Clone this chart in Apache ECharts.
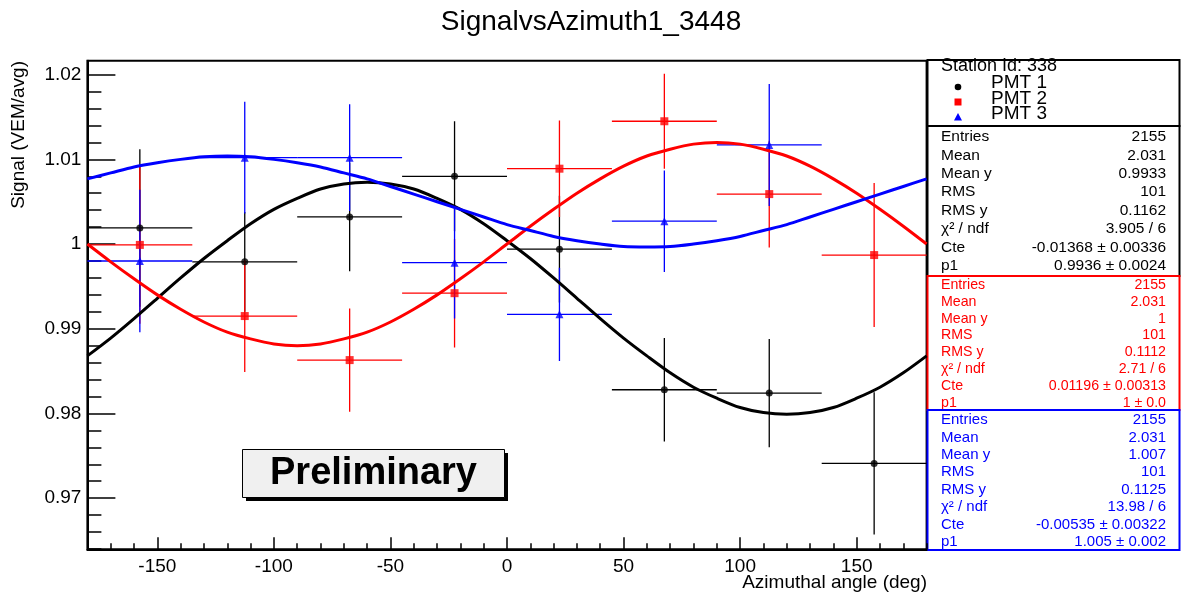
<!DOCTYPE html>
<html>
<head>
<meta charset="utf-8">
<title>SignalvsAzimuth1_3448</title>
<script src="https://cdn.jsdelivr.net/npm/echarts/dist/echarts.min.js"></script>
<style>
  html, body { margin: 0; padding: 0; background: #fff; }
  #main { width: 1182px; height: 613px; }
</style>
</head>
<body>
<div id="main"></div>
<script>
// 数据：方位角分箱中心 (deg)
var angles = [-157.5, -112.5, -67.5, -22.5, 22.5, 67.5, 112.5, 157.5];
var binHalf = 22.5;

// PMT 1 (black)
var pmt1 = [1.0019, 0.9979, 1.0032, 1.0080, 0.9994, 0.9828, 0.9824, 0.9741];
var pmt1Err = [0.0093, 0.0059, 0.0064, 0.0065, 0.0063, 0.0061, 0.0064, 0.0084];
// PMT 2 (red)
var pmt2 = [0.9999, 0.9915, 0.9863, 0.9942, 1.0089, 1.0145, 1.0059, 0.9987];
var pmt2Err = [0.0093, 0.0066, 0.0061, 0.0064, 0.0057, 0.0056, 0.0063, 0.0085];
// PMT 3 (blue) - 最后一个点不在图中
var pmt3 = [0.9980, 1.0102, 1.0102, 0.9978, 0.9917, 1.0027, 1.0117];
var pmt3Err = [0.0084, 0.0066, 0.0063, 0.0066, 0.0055, 0.0060, 0.0072];

// 拟合曲线（从图上读取，每 10 度一个点）
var fitAngles = [-180, -170, -160, -150, -140, -130, -120, -110, -100, -90, -80, -70, -60, -50, -40, -30, -20, -10, 0,
	10, 20, 30, 40, 50, 60, 70, 80, 90, 100, 110, 120, 130, 140, 150, 160, 170, 180];
var fit1 = [0.9868, 0.9889, 0.9912, 0.9936, 0.9960, 0.9983, 1.0004, 1.0024, 1.0041, 1.0054, 1.0065, 1.0071, 1.0073, 1.0071, 1.0065, 1.0054, 1.0041, 1.0024, 1.0004,
	0.9983, 0.9960, 0.9936, 0.9912, 0.9889, 0.9868, 0.9848, 0.9831, 0.9818, 0.9807, 0.9801, 0.9799, 0.9801, 0.9807, 0.9818, 0.9831, 0.9848, 0.9868];
var fit2 = [1.0000, 0.9979, 0.9959, 0.9940, 0.9923, 0.9908, 0.9896, 0.9888, 0.9882, 0.9880, 0.9882, 0.9888, 0.9896, 0.9908, 0.9923, 0.9940, 0.9959, 0.9979, 1.0000,
	1.0021, 1.0041, 1.0060, 1.0077, 1.0092, 1.0104, 1.0112, 1.0118, 1.0120, 1.0118, 1.0112, 1.0104, 1.0092, 1.0077, 1.0060, 1.0041, 1.0021, 1.0000];
var fit3 = [1.0077, 1.0084, 1.0091, 1.0096, 1.0100, 1.0103, 1.0104, 1.0103, 1.0100, 1.0096, 1.0091, 1.0084, 1.0077, 1.0068, 1.0059, 1.0050, 1.0041, 1.0032, 1.0023,
	1.0016, 1.0009, 1.0004, 1.0000, 0.9997, 0.99965, 0.9997, 1.0000, 1.0004, 1.0009, 1.0016, 1.0023, 1.0032, 1.0041, 1.0050, 1.0059, 1.0068, 1.0077];

// 坐标轴刻度
var xMajor = [-150, -100, -50, 0, 50, 100, 150];
var yMajor = [0.97, 0.98, 0.99, 1.00, 1.01, 1.02];

// 统计框
var statLabels = ['Entries', 'Mean', 'Mean y', 'RMS', 'RMS y', 'χ² / ndf', 'Cte', 'p1'];
var stats1 = ['2155', '2.031', '0.9933', '101', '0.1162', '3.905 / 6', '-0.01368 ± 0.00336', '0.9936 ± 0.0024'];
var stats2 = ['2155', '2.031', '1', '101', '0.1112', '2.71 / 6', '0.01196 ± 0.00313', '1 ± 0.0'];
var stats3 = ['2155', '2.031', '1.007', '101', '0.1125', '13.98 / 6', '-0.00535 ± 0.00322', '1.005 ± 0.002'];
var legendNames = ['PMT 1', 'PMT 2', 'PMT 3'];

var FONT = '"Liberation Sans", Arial, Helvetica, sans-serif';

var xMinor = [];
for (var i = -180; i <= 180; i += 10) { if (i % 50 != 0) xMinor.push(i); }
var yMinor = [];
for (var j = 964; j <= 1020; j += 2) { if (j % 10 != 0) yMinor.push(j / 1000); }

function zip(a, b, c) {
	var out = [];
	for (var k = 0; k < a.length && k < b.length; k++) {
		out.push(c ? [a[k], b[k], c[k]] : [a[k], b[k]]);
	}
	return out;
}

// 误差棒
function errorBars(color) {
	return function (params, api) {
		var x = api.value(0), y = api.value(1), e = api.value(2);
		var h0 = api.coord([x - binHalf, y]), h1 = api.coord([x + binHalf, y]);
		var v0 = api.coord([x, y - e]), v1 = api.coord([x, y + e]);
		var st = { stroke: color, lineWidth: 1.3 };
		return {
			type: 'group',
			children: [
				{ type: 'line', shape: { x1: h0[0], y1: h0[1], x2: h1[0], y2: h1[1] }, style: st },
				{ type: 'line', shape: { x1: v0[0], y1: v0[1], x2: v1[0], y2: v1[1] }, style: st }
			]
		};
	};
}

function pmtSeries(name, vals, errs, fit, color, symbol, size) {
	return [{
		type: 'custom',
		name: name,
		renderItem: errorBars(color),
		data: zip(angles, vals, errs),
		clip: true,
		z: 3
	}, {
		type: 'line',
		name: name + ' fit',
		data: zip(fitAngles, fit),
		smooth: 0.3,
		showSymbol: false,
		lineStyle: { color: color, width: 3 },
		z: 4
	}, {
		type: 'scatter',
		name: name,
		data: zip(angles, vals),
		symbol: symbol,
		symbolSize: size,
		itemStyle: { color: color },
		z: 5
	}];
}

function statBox(vals, color, top, bottom, y0, step, fs) {
	var items = [{
		type: 'rect',
		shape: { x: 927.5, y: top, width: 252, height: bottom - top },
		style: { fill: '#fff', stroke: color, lineWidth: 2 }
	}];
	for (var k = 0; k < statLabels.length; k++) {
		items.push({
			type: 'text', x: 941, y: y0 + k * step,
			style: { text: statLabels[k], font: fs + 'px ' + FONT, fill: color, align: 'left', verticalAlign: 'middle' }
		});
		items.push({
			type: 'text', x: 1166, y: y0 + k * step,
			style: { text: vals[k], font: fs + 'px ' + FONT, fill: color, align: 'right', verticalAlign: 'middle' }
		});
	}
	return items;
}

var graphics = [];
// 标题
graphics.push({ type: 'text', x: 591, y: 22, style: { text: 'SignalvsAzimuth1_3448', font: '28px ' + FONT, fill: '#000', align: 'center', verticalAlign: 'middle' } });
// 坐标轴标题
graphics.push({ type: 'text', x: 19, y: 61, rotation: Math.PI / 2, style: { text: 'Signal (VEM/avg)', font: '19px ' + FONT, fill: '#000', align: 'right', verticalAlign: 'middle' } });
graphics.push({ type: 'text', x: 927, y: 583, style: { text: 'Azimuthal angle (deg)', font: '19px ' + FONT, fill: '#000', align: 'right', verticalAlign: 'middle' } });

// 图例框
graphics.push({ type: 'rect', shape: { x: 927.5, y: 60, width: 252, height: 66 }, style: { fill: '#fff', stroke: '#000', lineWidth: 2 } });
graphics.push({ type: 'text', x: 941, y: 66, style: { text: 'Station Id: 338', font: '18px ' + FONT, fill: '#000', align: 'left', verticalAlign: 'middle' } });
var legY = [83, 98.5, 113.5];
for (var m = 0; m < 3; m++) {
	graphics.push({ type: 'text', x: 991, y: legY[m], style: { text: legendNames[m], font: '19px ' + FONT, fill: '#000', align: 'left', verticalAlign: 'middle' } });
}
graphics.push({ type: 'circle', shape: { cx: 958, cy: 87, r: 3.3 }, style: { fill: '#000' } });
graphics.push({ type: 'rect', shape: { x: 954.5, y: 98.5, width: 7, height: 7 }, style: { fill: '#ff0000' } });
graphics.push({ type: 'polygon', shape: { points: [[958, 113], [954, 120.5], [962, 120.5]] }, style: { fill: '#0000ff' } });

graphics = graphics.concat(statBox(stats1, '#000', 126, 276, 137, 18.4, 15.5));
graphics = graphics.concat(statBox(stats2, '#ff0000', 276, 410, 285, 16.8, 14.2));
graphics = graphics.concat(statBox(stats3, '#0000ff', 410, 550, 420, 17.4, 15));

// Preliminary 标签
graphics.push({ type: 'rect', shape: { x: 246, y: 453, width: 262, height: 48 }, style: { fill: '#000' } });
graphics.push({ type: 'rect', shape: { x: 242.5, y: 449.5, width: 262, height: 48 }, style: { fill: '#f0f0f0', stroke: '#000', lineWidth: 1 } });
graphics.push({ type: 'text', x: 373.5, y: 474, style: { text: 'Preliminary', font: 'bold 38px ' + FONT, fill: '#000', align: 'center', verticalAlign: 'middle' } });

var xMin = -180, xMax = 180, yMin = 0.96396, yMax = 1.02165;

var option = {
	animation: false,
	backgroundColor: '#fff',
	grid: {
		left: 87.4, right: 255.4, top: 60.7, bottom: 63.7,
		show: true, borderColor: '#000', borderWidth: 2, backgroundColor: 'transparent'
	},
	xAxis: [{
		type: 'value', min: xMin, max: xMax, position: 'bottom',
		axisLine: { onZero: false, lineStyle: { color: '#000', width: 2 } },
		axisTick: { inside: true, length: 12, customValues: xMajor, lineStyle: { color: '#000', width: 1.5 } },
		axisLabel: { customValues: xMajor, color: '#000', fontSize: 19, fontFamily: FONT, margin: 8 },
		splitLine: { show: false }
	}, {
		type: 'value', min: xMin, max: xMax, position: 'bottom',
		axisLine: { show: false, onZero: false },
		axisTick: { inside: true, length: 6, customValues: xMinor, lineStyle: { color: '#000', width: 1.5 } },
		axisLabel: { show: false },
		splitLine: { show: false }
	}],
	yAxis: [{
		type: 'value', min: yMin, max: yMax, position: 'left',
		axisLine: { show: true, onZero: false, lineStyle: { color: '#000', width: 2 } },
		axisTick: { show: true, inside: true, length: 28, customValues: yMajor, lineStyle: { color: '#000', width: 1.5 } },
		axisLabel: {
			customValues: yMajor, color: '#000', fontSize: 19, fontFamily: FONT, margin: 6,
			formatter: function (v) { return Math.abs(v - 1) < 1e-9 ? '1' : v.toFixed(2); }
		},
		splitLine: { show: false }
	}, {
		type: 'value', min: yMin, max: yMax, position: 'left',
		axisLine: { show: false, onZero: false },
		axisTick: { show: true, inside: true, length: 14, customValues: yMinor, lineStyle: { color: '#000', width: 1.5 } },
		axisLabel: { show: false },
		splitLine: { show: false }
	}],
	series: [].concat(
		pmtSeries('PMT 1', pmt1, pmt1Err, fit1, '#000000', 'circle', 7),
		pmtSeries('PMT 2', pmt2, pmt2Err, fit2, '#ff0000', 'rect', 8),
		pmtSeries('PMT 3', pmt3, pmt3Err, fit3, '#0000ff', 'triangle', 8)
	),
	graphic: graphics
};

var chart = echarts.init(document.getElementById('main'));
chart.setOption(option);
</script>
</body>
</html>
